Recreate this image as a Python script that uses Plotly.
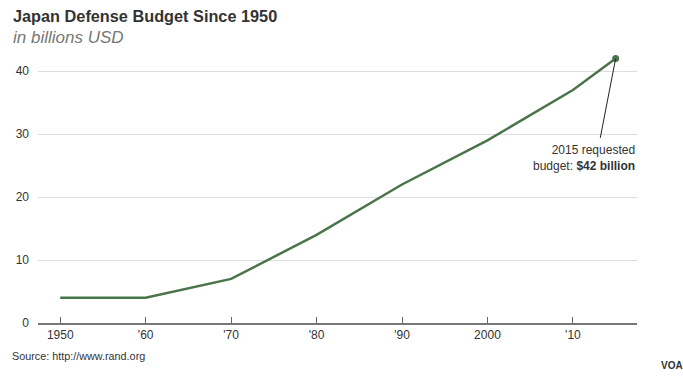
import plotly.graph_objects as go

years = [1950, 1960, 1970, 1980, 1990, 2000, 2010, 2015]
budget = [4, 4, 7, 14, 22, 29, 37, 42]
tick_vals = [1950, 1960, 1970, 1980, 1990, 2000, 2010]
tick_text = ["1950", "'60", "'70", "'80", "'90", "2000", "'10"]
y_ticks = [0, 10, 20, 30, 40]

GREEN = "#4a744a"
FONT = "Liberation Sans, Arial, sans-serif"

fig = go.Figure()
fig.add_trace(go.Scatter(
    x=years, y=budget, mode="lines",
    line=dict(color=GREEN, width=2.5), hoverinfo="skip", showlegend=False,
))
fig.add_trace(go.Scatter(
    x=[years[-1]], y=[budget[-1]], mode="markers",
    marker=dict(color=GREEN, size=7), hoverinfo="skip", showlegend=False,
))

# leader line from the final point down to the label
fig.add_shape(type="line", xref="x", yref="y",
              x0=years[-1], y0=budget[-1], x1=years[-1] - 1.8, y1=budget[-1] - 12.6,
              line=dict(color="#222", width=1))

fig.add_annotation(xref="paper", x=1, yref="y", y=budget[-1] - 15.8,
                   xanchor="right", yanchor="middle", showarrow=False, align="right",
                   text="2015 requested<br>budget: <b>$42 billion</b>",
                   font=dict(family=FONT, size=12, color="#333"))

fig.add_annotation(xref="paper", yref="paper", x=-0.045, y=1.067, xanchor="left", yanchor="bottom",
                   showarrow=False, text="<b>Japan Defense Budget Since 1950</b>",
                   font=dict(family=FONT, size=16.3, color="#333"))
fig.add_annotation(xref="paper", yref="paper", x=-0.045, y=0.99, xanchor="left", yanchor="bottom",
                   showarrow=False, text="<i>in billions USD</i>",
                   font=dict(family=FONT, size=17, color="#777"))
fig.add_annotation(xref="paper", yref="paper", x=-0.046, y=-0.092, xanchor="left", yanchor="top",
                   showarrow=False, text="Source: http://www.rand.org",
                   font=dict(family=FONT, size=10.8, color="#333"))
fig.add_annotation(xref="paper", yref="paper", x=1.08, y=-0.126, xanchor="right", yanchor="top",
                   showarrow=False, text="<b>VOA</b>",
                   font=dict(family=FONT, size=10, color="#333"))

fig.update_layout(
    width=683, height=378,
    margin=dict(l=38, r=46, t=46, b=55),
    paper_bgcolor="white", plot_bgcolor="white",
    font=dict(family=FONT, size=12, color="#333"),
    xaxis=dict(range=[1947.4, 2017.5], tickvals=tick_vals, ticktext=tick_text,
               showgrid=False, zeroline=False, showline=True, linecolor="#777", linewidth=1.5,
               ticks="inside", ticklen=6, tickcolor="#666", tickwidth=1,
               tickfont=dict(size=12, color="#333"), fixedrange=True),
    yaxis=dict(range=[0, 44], tickvals=y_ticks, showgrid=True, gridcolor="#dddddd", gridwidth=1,
               zeroline=False, showline=False, ticks="", ticklabelstandoff=8,
               tickfont=dict(size=12, color="#333"), fixedrange=True),
)

fig.write_html("out.html")
